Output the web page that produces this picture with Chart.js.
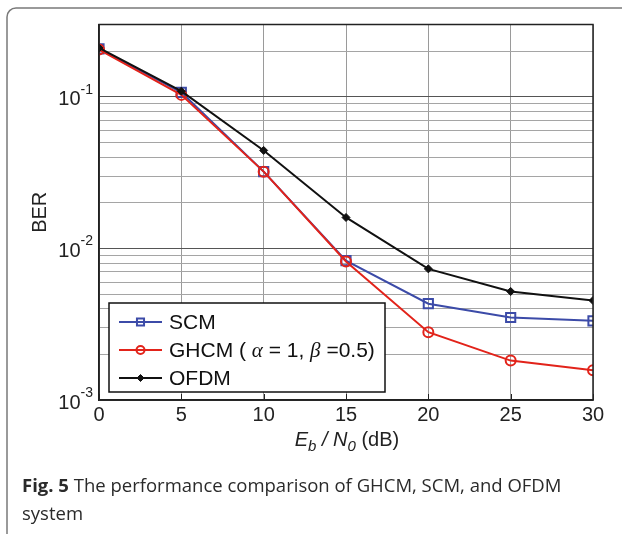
<!DOCTYPE html>
<html>
<head>
<meta charset="utf-8">
<script src="https://cdn.jsdelivr.net/npm/chart.js@4.4.1/dist/chart.umd.min.js"></script>
<style>
  html, body { margin: 0; padding: 0; background: #fff; }
  #wrap { width: 622px; height: 534px; }
</style>
</head>
<body>
<div id="wrap"><canvas id="chart" width="622" height="534"></canvas></div>
<script>
// data (BER vs Eb/N0)
const snr = [0, 5, 10, 15, 20, 25, 30];
const berSCM = [0.207, 0.107, 0.0321, 0.0083, 0.00432, 0.0035, 0.00333];
const berGHCM = [0.205, 0.103, 0.0321, 0.0082, 0.0028, 0.00182, 0.00157];
const berOFDM = [0.21, 0.109, 0.0443, 0.016, 0.00733, 0.0052, 0.00453];

const xTicks = [0, 5, 10, 15, 20, 25, 30];
const yDecades = [0.001, 0.01, 0.1];
const yDecadeLabels = ["-3", "-2", "-1"];
const mantissas = [1, 2, 3, 4, 5, 6, 7, 8, 9];
const yMin = 0.001, yMax = 0.3;

const seriesNames = ["SCM", "GHCM", "OFDM"];
const sansFont = "'Liberation Sans', Arial, sans-serif";

// grid lines of the log axis: every mantissa of each decade
let yGrid = [];
yDecades.forEach(d => mantissas.forEach(m => {
  const v = +(d * m).toPrecision(3);
  if (v <= yMax + 1e-12) yGrid.push(v);
}));

function isDecade(v) {
  const l = Math.log10(v);
  return Math.abs(l - Math.round(l)) < 1e-9;
}

function toPoints(ys) {
  return snr.map((x, i) => ({ x: x, y: ys[i] }));
}

const blue = "#3c4ba8";
const red = "#e2231a";
const black = "#111";

// draw text pieces one after another (for italic / sub / superscripts)
function drawRuns(ctx, runs, x, y) {
  runs.forEach(r => {
    ctx.font = r.font;
    ctx.fillText(r.text, x, y + (r.dy || 0));
    x += ctx.measureText(r.text).width + (r.gap || 0);
  });
  return x;
}
function runsWidth(ctx, runs) {
  let w = 0;
  runs.forEach(r => { ctx.font = r.font; w += ctx.measureText(r.text).width + (r.gap || 0); });
  return w;
}

const decor = {
  id: "decor",
  beforeDraw(chart) {
    const ctx = chart.ctx;
    ctx.save();
    ctx.fillStyle = "#fff";
    ctx.fillRect(0, 0, chart.width, chart.height);
    // rounded frame around the figure (cut off at right and bottom)
    ctx.strokeStyle = "#7a7a7a";
    ctx.lineWidth = 1.5;
    ctx.beginPath();
    ctx.moveTo(7, chart.height + 5);
    ctx.lineTo(7, 17);
    ctx.arcTo(7, 8, 16, 8, 9);
    ctx.lineTo(chart.width + 5, 8);
    ctx.stroke();
    ctx.restore();
  },
  afterDatasetsDraw(chart) {
    const ctx = chart.ctx;
    const a = chart.chartArea;
    const xs = chart.scales.x;
    const ys = chart.scales.y;
    ctx.save();
    // box around the axes
    ctx.strokeStyle = "#222";
    ctx.lineWidth = 1.5;
    ctx.strokeRect(a.left, a.top, a.right - a.left, a.bottom - a.top);

    // y tick labels 10^n
    ctx.fillStyle = "#222";
    ctx.textBaseline = "middle";
    yDecades.forEach((d, i) => {
      const py = ys.getPixelForValue(d);
      const runs = [
        { text: "10", font: "20px " + sansFont, dy: 3 },
        { text: yDecadeLabels[i], font: "14px " + sansFont, dy: -7 }
      ];
      const w = runsWidth(ctx, runs);
      drawRuns(ctx, runs, a.left - 6 - w, py);
    });

    // y axis title
    ctx.save();
    ctx.translate(40, (a.top + a.bottom) / 2);
    ctx.rotate(-Math.PI / 2);
    ctx.textAlign = "center";
    ctx.font = "20px " + sansFont;
    ctx.fillText("BER", 0, 0);
    ctx.restore();

    // x axis title: Eb / N0 (dB)
    const it = "italic 20px " + sansFont, its = "italic 15px " + sansFont;
    const xRuns = [
      { text: "E", font: it },
      { text: "b", font: its, dy: 7 },
      { text: " / ", font: it },
      { text: "N", font: it },
      { text: "0", font: its, dy: 7 },
      { text: " (dB)", font: "20px " + sansFont }
    ];
    const xw = runsWidth(ctx, xRuns);
    drawRuns(ctx, xRuns, (a.left + a.right) / 2 - xw / 2 + 1, 440);

    // legend box
    const lx = 109, ly = 303, lw = 276, lh = 89;
    ctx.fillStyle = "#fff";
    ctx.fillRect(lx, ly, lw, lh);
    ctx.strokeStyle = "#111";
    ctx.lineWidth = 1.5;
    ctx.strokeRect(lx, ly, lw, lh);

    // small inward ticks on the x axis (visible below the legend)
    ctx.strokeStyle = "#222";
    ctx.lineWidth = 1;
    xTicks.forEach(v => {
      const px = Math.round(xs.getPixelForValue(v)) + 0.5;
      ctx.beginPath();
      ctx.moveTo(px, a.bottom);
      ctx.lineTo(px, a.bottom - 6);
      ctx.stroke();
    });

    const rowsY = [322, 350, 378];
    chart.data.datasets.forEach((ds, i) => {
      const cy = rowsY[i];
      ctx.strokeStyle = ds.borderColor;
      ctx.lineWidth = ds.borderWidth;
      ctx.beginPath();
      ctx.moveTo(119, cy);
      ctx.lineTo(162, cy);
      ctx.stroke();
      ctx.fillStyle = ds.pointBackgroundColor;
      ctx.strokeStyle = ds.borderColor;
      ctx.lineWidth = ds.pointBorderWidth;
      Chart.helpers.drawPoint(ctx, {
        pointStyle: ds.pointStyle,
        radius: ds.legendRadius,
        borderWidth: ds.pointBorderWidth
      }, 140.5, cy);
    });
    ctx.fillStyle = "#111";
    ctx.textBaseline = "middle";
    const nf = "21px " + sansFont, gf = "italic 21px 'Liberation Serif', serif";
    drawRuns(ctx, [{ text: seriesNames[0], font: nf }], 169, rowsY[0] + 1);
    drawRuns(ctx, [
      { text: seriesNames[1] + " ( ", font: nf },
      { text: "\u03b1", font: gf },
      { text: " = 1, ", font: nf },
      { text: "\u03b2", font: gf },
      { text: " =0.5)", font: nf }
    ], 169, rowsY[1] + 1);
    drawRuns(ctx, [{ text: seriesNames[2], font: nf }], 169, rowsY[2] + 1);

    // caption
    ctx.fillStyle = "#2a2a2a";
    ctx.textBaseline = "alphabetic";
    const capFont = "18.5px 'Open Sans', sans-serif";
    drawRuns(ctx, [
      { text: "Fig. 5", font: "bold " + capFont },
      { text: " The performance comparison of GHCM, SCM, and OFDM", font: capFont }
    ], 22, 492);
    drawRuns(ctx, [{ text: "system", font: capFont }], 22, 520);
    ctx.restore();
  }
};

new Chart(document.getElementById("chart"), {
  type: "line",
  data: {
    datasets: [
      {
        label: seriesNames[0],
        data: toPoints(berSCM),
        borderColor: blue,
        backgroundColor: blue,
        borderWidth: 2,
        pointStyle: "rect",
        pointRadius: 6.5,
        legendRadius: 5,
        pointBorderWidth: 2,
        pointBackgroundColor: "rgba(0,0,0,0)",
        pointBorderColor: blue,
        order: 2
      },
      {
        label: seriesNames[1],
        data: toPoints(berGHCM),
        borderColor: red,
        backgroundColor: red,
        borderWidth: 2,
        pointStyle: "circle",
        pointRadius: 5,
        legendRadius: 4,
        pointBorderWidth: 2,
        pointBackgroundColor: "rgba(0,0,0,0)",
        pointBorderColor: red,
        order: 1
      },
      {
        label: seriesNames[2],
        data: toPoints(berOFDM),
        borderColor: black,
        backgroundColor: black,
        borderWidth: 2,
        pointStyle: "rectRot",
        pointRadius: 4,
        legendRadius: 3.5,
        pointBorderWidth: 1,
        pointBackgroundColor: black,
        pointBorderColor: black,
        order: 0
      }
    ]
  },
  options: {
    responsive: false,
    animation: false,
    devicePixelRatio: 1,
    layout: { padding: { left: 0, top: 24.5, right: 29, bottom: 0 } },
    plugins: {
      legend: { display: false },
      tooltip: { enabled: false }
    },
    elements: { line: { tension: 0 } },
    scales: {
      x: {
        type: "linear",
        min: 0,
        max: 30,
        afterBuildTicks: s => { s.ticks = xTicks.map(v => ({ value: v })); },
        ticks: {
          font: { family: sansFont, size: 20 },
          color: "#222",
          padding: 3
        },
        grid: { color: "#9a9a9a", lineWidth: 1, drawTicks: false },
        border: { display: true, color: "#222", width: 1.5 },
        afterFit: s => { s.height = 134; }
      },
      y: {
        type: "logarithmic",
        min: yMin,
        max: yMax,
        afterBuildTicks: s => { s.ticks = yGrid.map(v => ({ value: v, major: isDecade(v) })); },
        ticks: { display: false },
        grid: {
          color: c => (c.tick && isDecade(c.tick.value)) ? "#555" : "#a5a5a5",
          lineWidth: 1,
          drawTicks: false
        },
        border: { display: true, color: "#222", width: 1.5 },
        afterFit: s => { s.width = 99; }
      }
    }
  },
  plugins: [decor]
});
</script>
</body>
</html>
